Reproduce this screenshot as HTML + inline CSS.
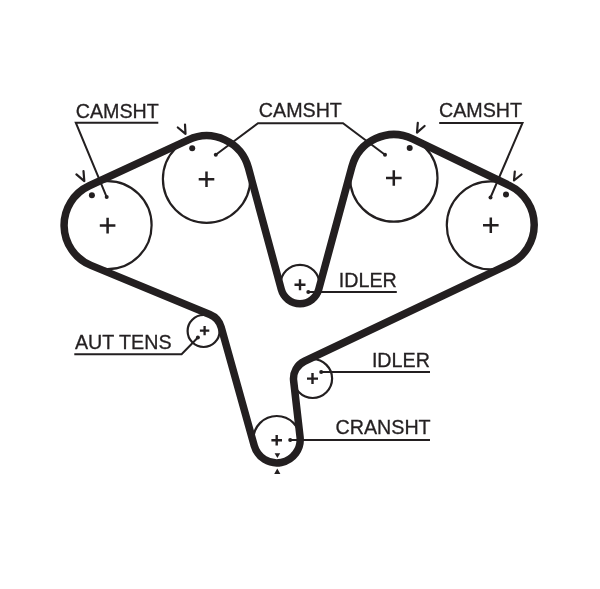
<!DOCTYPE html>
<html><head><meta charset="utf-8"><style>
html,body{margin:0;padding:0;background:#fff;}
svg{display:block;}
text{font-family:"Liberation Sans",sans-serif;font-size:19.7px;fill:#231f20;stroke:#231f20;stroke-width:0.3px;}
</style></head><body>
<svg width="600" height="589" viewBox="0 0 600 589">
<rect width="600" height="589" fill="#fff"/>
<circle cx="107.6" cy="225.2" r="44" fill="none" stroke="#231f20" stroke-width="2.2"/>
<circle cx="206.6" cy="179.1" r="43.7" fill="none" stroke="#231f20" stroke-width="2.2"/>
<circle cx="300" cy="284.3" r="19.5" fill="none" stroke="#231f20" stroke-width="2.2"/>
<circle cx="393.8" cy="178" r="43.7" fill="none" stroke="#231f20" stroke-width="2.2"/>
<circle cx="490.8" cy="225.3" r="44" fill="none" stroke="#231f20" stroke-width="2.2"/>
<circle cx="312.7" cy="378.6" r="19.4" fill="none" stroke="#231f20" stroke-width="2.2"/>
<circle cx="276.8" cy="439.5" r="23.5" fill="none" stroke="#231f20" stroke-width="2.2"/>
<circle cx="203.6" cy="331" r="16" fill="none" stroke="#231f20" stroke-width="2.2"/>
<path d="M90.97 265.4 A43.5 43.5 0 0 1 89.31 185.73 L188.39 139.81 A43.3 43.3 0 0 1 248.4 167.8 L281.27 289.36 A19.4 19.4 0 0 0 318.73 289.36 L351.9 166.67 A43.4 43.4 0 0 1 412.62 138.89 L509.5 185.51 A43.6 43.6 0 0 1 509.27 264.2 L304.48 361.25 A19.2 19.2 0 0 0 293.62 380.79 L300.05 436.84 A23.4 23.4 0 0 1 254.26 445.79 L221.18 327.35 A19.5 19.5 0 0 0 209.85 314.58 L90.97 265.4 Z" fill="none" stroke="#231f20" stroke-width="7.5" stroke-linejoin="round"/>
<path d="M99.8 225.6H115.4M107.6 217.8V233.4" stroke="#231f20" stroke-width="2.5" fill="none"/>
<path d="M198.7 179.2H214.3M206.5 171.4V187" stroke="#231f20" stroke-width="2.5" fill="none"/>
<path d="M386 178H401.6M393.8 170.2V185.8" stroke="#231f20" stroke-width="2.5" fill="none"/>
<path d="M483 225.3H498.6M490.8 217.5V233.1" stroke="#231f20" stroke-width="2.5" fill="none"/>
<path d="M294.5 284.8H305.5M300 279.3V290.3" stroke="#231f20" stroke-width="2.4" fill="none"/>
<path d="M307 378.6H318M312.5 373.1V384.1" stroke="#231f20" stroke-width="2.4" fill="none"/>
<path d="M271.4 440.3H282M276.7 435V445.6" stroke="#231f20" stroke-width="2.4" fill="none"/>
<path d="M199.9 330.6H209.3M204.6 325.9V335.3" stroke="#231f20" stroke-width="2.3" fill="none"/>
<circle cx="91.9" cy="195.3" r="3" fill="#231f20"/>
<circle cx="192.2" cy="148.3" r="3" fill="#231f20"/>
<circle cx="409.7" cy="148.0" r="3" fill="#231f20"/>
<circle cx="506.0" cy="194.5" r="3" fill="#231f20"/>
<polyline points="76.4,174.4 84.3,181.1 83.5,171.1" fill="none" stroke="#231f20" stroke-width="2.2" stroke-linejoin="round" stroke-linecap="round"/>
<polyline points="177.8,127.5 185.5,133.8 185,124.5" fill="none" stroke="#231f20" stroke-width="2.2" stroke-linejoin="round" stroke-linecap="round"/>
<polyline points="417.8,122.9 417,132.6 424.6,126" fill="none" stroke="#231f20" stroke-width="2.2" stroke-linejoin="round" stroke-linecap="round"/>
<polyline points="514.8,171.5 514,180.5 521.5,174.5" fill="none" stroke="#231f20" stroke-width="2.2" stroke-linejoin="round" stroke-linecap="round"/>
<polyline points="158.3,122.7 75.8,122.7 106.7,197.1" fill="none" stroke="#231f20" stroke-width="2"/>
<polyline points="215.8,154.8 258,123.3 343,123.3 385,154.7" fill="none" stroke="#231f20" stroke-width="2"/>
<polyline points="439.2,123 522.5,123 490.5,197.5" fill="none" stroke="#231f20" stroke-width="2"/>
<polyline points="308.3,292.1 396.8,292.1" fill="none" stroke="#231f20" stroke-width="2"/>
<polyline points="321.2,372 430,372" fill="none" stroke="#231f20" stroke-width="2"/>
<polyline points="290.2,440.1 430,440.1" fill="none" stroke="#231f20" stroke-width="2"/>
<polyline points="197.9,337.5 181.6,354.3 74.3,354.3" fill="none" stroke="#231f20" stroke-width="2"/>
<circle cx="106.7" cy="197.1" r="2" fill="#231f20"/>
<circle cx="215.8" cy="154.8" r="2" fill="#231f20"/>
<circle cx="385" cy="154.7" r="2" fill="#231f20"/>
<circle cx="490.5" cy="197.5" r="2" fill="#231f20"/>
<circle cx="308.3" cy="292.1" r="2" fill="#231f20"/>
<circle cx="321.2" cy="372" r="2" fill="#231f20"/>
<circle cx="290.2" cy="440.1" r="2" fill="#231f20"/>
<circle cx="197.9" cy="337.5" r="2" fill="#231f20"/>
<path d="M274.6 453.2H280.2L277.4 458Z" fill="#231f20"/>
<path d="M274.2 474H280.4L277.3 468.6Z" fill="#231f20"/>
<g opacity="0.995">
<text transform="translate(75.75 118.3) scale(1 1.04)">CAMSHT</text>
<text transform="translate(258.8 117.1) scale(1 1.04)">CAMSHT</text>
<text transform="translate(439.0 117.1) scale(1 1.04)">CAMSHT</text>
<text transform="translate(338.8 287.4) scale(1 1.04)">IDLER</text>
<text transform="translate(371.9 367.2) scale(1 1.04)">IDLER</text>
<text transform="translate(335.5 434.1) scale(1 1.04)">CRANSHT</text>
<text transform="translate(74.9 349.4) scale(1 1.04)">AUT TENS</text>
</g>
</svg>
</body></html>
